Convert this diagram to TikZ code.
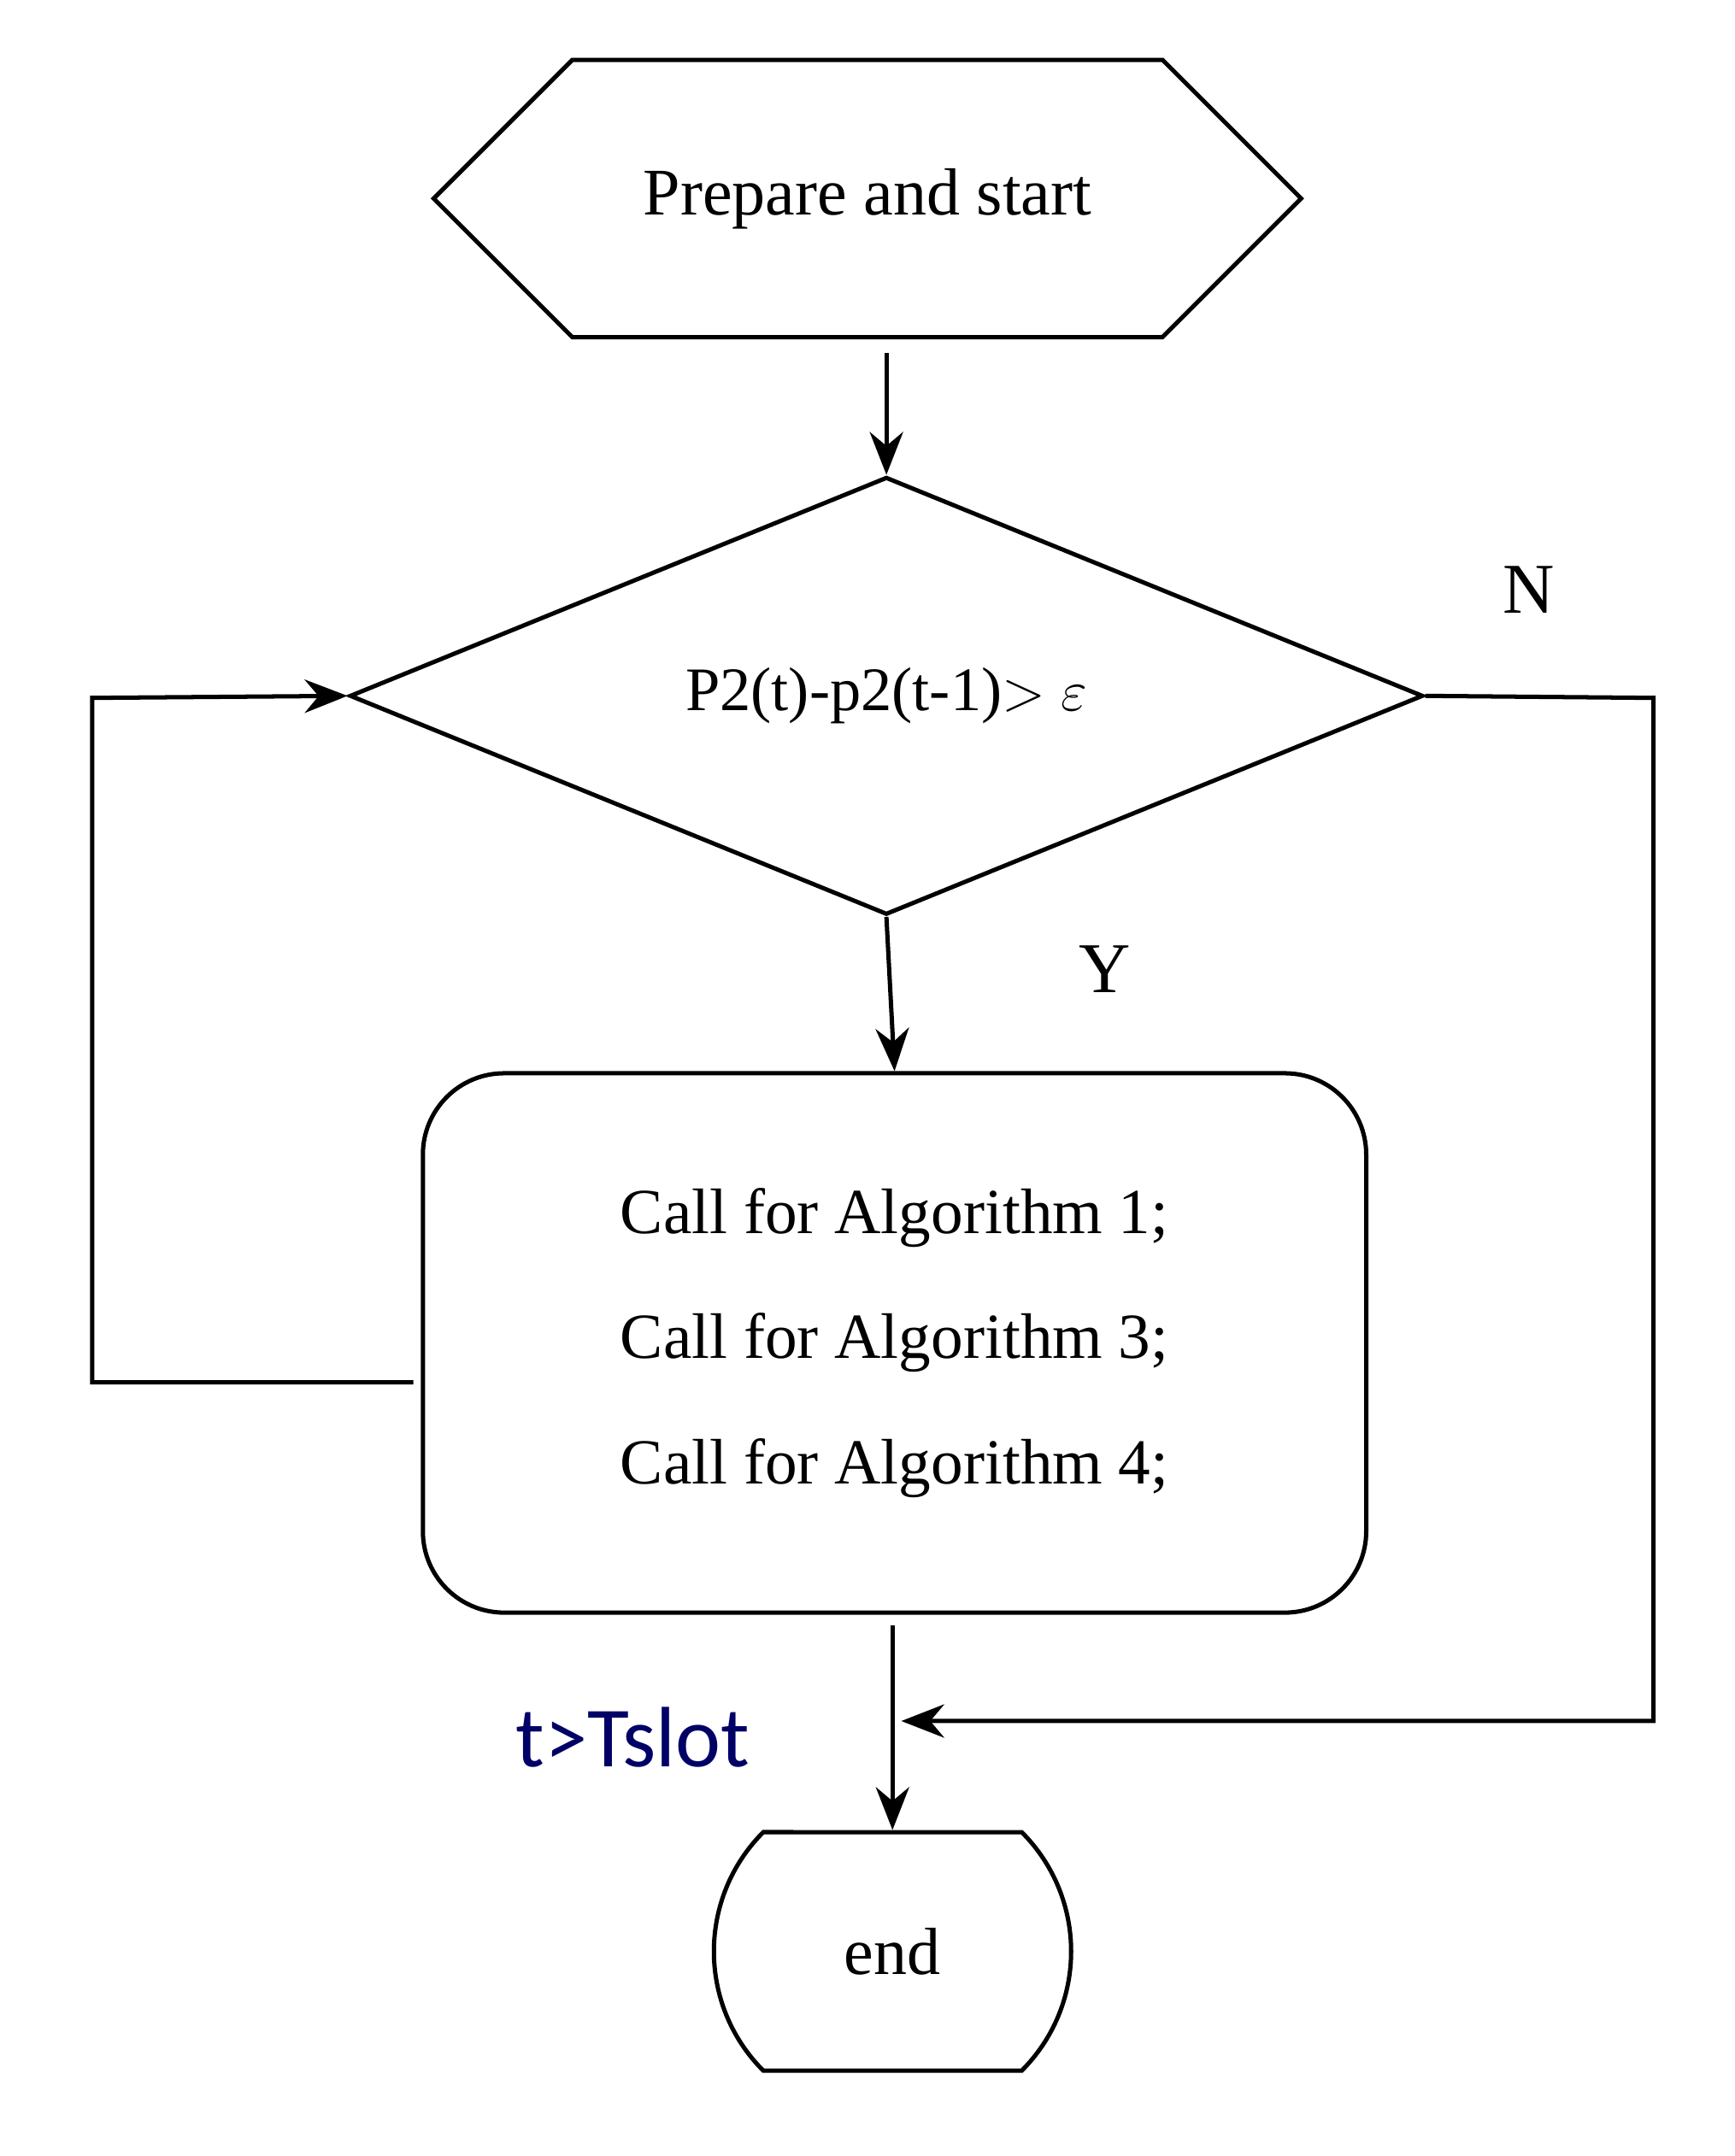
\documentclass[tikz,border=0pt]{standalone}
\usepackage{fontspec}
\setmainfont{Liberation Serif}
\newfontfamily\slotfont{Carlito}
\usetikzlibrary{shapes.geometric,shapes.misc,arrows.meta}
\begin{document}
\begin{tikzpicture}[
  line width=0.9pt,
  flow/.style={-{Stealth[length=9pt,width=7pt]}},
  box/.style={draw,align=center,font=\fontsize{14}{14}\selectfont}
]
\useasboundingbox (0,0) rectangle (12.8,-15.91);

% Start
\node[box,chamfered rectangle,chamfered rectangle xsep=1.25cm,chamfered rectangle ysep=0.8cm,
  minimum width=6.4cm,minimum height=1.3cm,inner sep=0pt] (start) at (6.4,-1.465) {Prepare and start};

% Test
\node[box,diamond,minimum width=7.92cm,minimum height=3.23cm,aspect=2.45,inner sep=0pt,
  font=\fontsize{13}{13}\selectfont] (test) at (6.54,-5.135) {P2(t)-p2(t-1)$>$ $\varepsilon$};

% Calls
\node[box,rectangle,rounded corners=0.6cm,minimum width=6.96cm,minimum height=3.98cm,
  font=\fontsize{13.5}{13.5}\selectfont] (calls) at (6.6,-9.91)
  {Call for Algorithm 1;\\[0.45cm] Call for Algorithm 3;\\[0.45cm] Call for Algorithm 4;};

% End
\node[box,rounded rectangle,rounded rectangle arc length=90,minimum width=2.87cm,minimum height=1.76cm] (stop) at (6.585,-14.4) {end};

% Labels
\node[font=\fontsize{15}{15}\selectfont] (nlab) at (11.28,-4.35) {N};
\node[font=\fontsize{15}{15}\selectfont] (ylab) at (8.15,-7.15) {Y};
\node[font=\slotfont\fontsize{18}{18}\selectfont,text=blue!40!black] (slot) at (4.67,-12.82) {t>Tslot};

% Corners
\coordinate (lb) at (0.68,-10.2);
\coordinate (lt) at (0.68,-5.15);
\coordinate (rt) at (12.2,-5.15);
\coordinate (rb) at (12.2,-12.7);
\coordinate (join) at (6.65,-12.7);

% Connectors
\draw[flow] ([yshift=-0.1cm]start.south -| test.north) -- (test.north);
\draw[flow] (test.south) -- (calls.north);
\draw[flow] ([yshift=-0.08cm]calls.south -| stop.north) -- (stop.north);
\draw[flow] (3.05,-10.2) -- (lb) -- (lt) -- (test.west);
\draw[flow] (test.east) -- (rt) -- (rb) -- (join);
\end{tikzpicture}
\end{document}
